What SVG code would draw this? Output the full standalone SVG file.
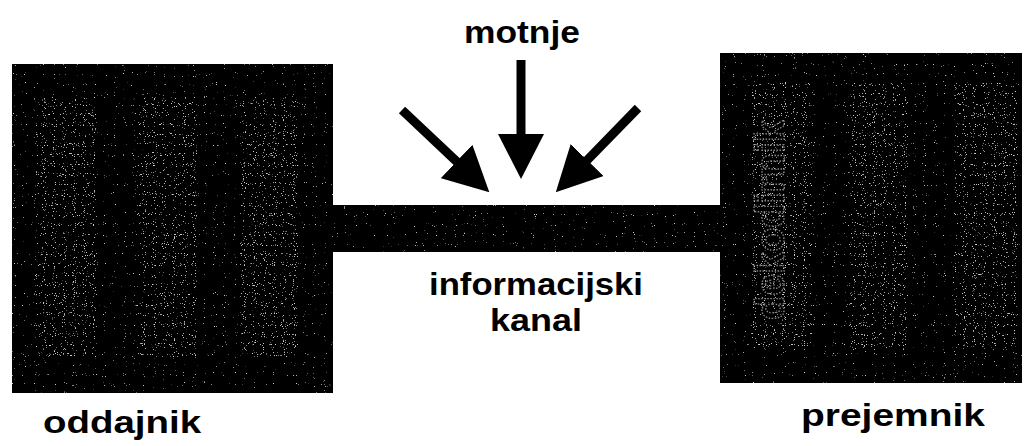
<svg xmlns="http://www.w3.org/2000/svg" width="1028" height="446" viewBox="0 0 1028 446">
  <style>
    .lbl { font-family: "Liberation Sans", Arial, sans-serif; font-weight: bold; font-size: 32px; fill: #000; text-anchor: middle; }
    .dark { fill: #020202; filter: url(#speck); }
    .col { fill: #060606; filter: url(#speck2); }
    .faint { font-family: "Liberation Sans", Arial, sans-serif; font-weight: bold; font-size: 40px; fill: none; stroke: #a0a0a0; stroke-width: 1.4; stroke-dasharray: 1.5 1.5; text-anchor: middle; opacity: 0.8; }
    .arrow { stroke: #000; stroke-width: 9; fill: none; marker-end: url(#head); }
  </style>
  <defs>
    <filter id="speck" x="0" y="0" width="1" height="1">
      <feTurbulence type="fractalNoise" baseFrequency="0.9" numOctaves="1" seed="3" result="n"/>
      <feColorMatrix in="n" type="matrix" values="0 0 0 0 1  0 0 0 0 1  0 0 0 0 1  0 0 0 14 -10.0" result="dots"/>
      <feComposite in="dots" in2="SourceGraphic" operator="in" result="d2"/>
      <feComponentTransfer in="d2" result="d3"><feFuncA type="linear" slope="0.6"/></feComponentTransfer>
      <feMerge><feMergeNode in="SourceGraphic"/><feMergeNode in="d3"/></feMerge>
    </filter>
    <filter id="speck2" x="0" y="0" width="1" height="1">
      <feTurbulence type="fractalNoise" baseFrequency="0.9" numOctaves="1" seed="7" result="n"/>
      <feColorMatrix in="n" type="matrix" values="0 0 0 0 1  0 0 0 0 1  0 0 0 0 1  0 0 0 14 -9.3" result="dots"/>
      <feComposite in="dots" in2="SourceGraphic" operator="in" result="d2"/>
      <feComponentTransfer in="d2" result="d3"><feFuncA type="linear" slope="0.6"/></feComponentTransfer>
      <feMerge><feMergeNode in="SourceGraphic"/><feMergeNode in="d3"/></feMerge>
    </filter>
    <marker id="head" viewBox="0 0 45 46" refX="1" refY="23" markerWidth="45" markerHeight="46" markerUnits="userSpaceOnUse" orient="auto">
      <path d="M0,0 L45,23 L0,46 z" fill="#000"/>
    </marker>
  </defs>
  <rect width="1028" height="446" fill="#fff"/>

  <g id="kanal">
    <rect class="dark" x="330" y="205" width="394" height="47"/>
    <text class="lbl" x="536" y="295" textLength="214" lengthAdjust="spacingAndGlyphs">informacijski</text>
    <text class="lbl" x="536" y="331" textLength="92" lengthAdjust="spacingAndGlyphs">kanal</text>
  </g>

  <g id="oddajnik">
    <rect class="dark" x="12" y="64" width="321" height="329"/>
    <rect class="col" x="36" y="97" width="60" height="260"/>
    <rect class="col" x="137" y="97" width="60" height="260"/>
    <rect class="col" x="240" y="97" width="58" height="260"/>
    <text class="lbl" x="122" y="433" textLength="158" lengthAdjust="spacingAndGlyphs">oddajnik</text>
  </g>

  <g id="prejemnik">
    <rect class="dark" x="720" y="53" width="302" height="330"/>
    <rect class="col" x="752" y="83" width="60" height="267"/>
    <rect class="col" x="848" y="83" width="60" height="267"/>
    <rect class="col" x="955" y="83" width="62" height="267"/>
    <text class="faint" transform="translate(784,220) rotate(-90)" textLength="200" lengthAdjust="spacingAndGlyphs">dekodirnik</text>
    <text class="lbl" x="893" y="426" textLength="184" lengthAdjust="spacingAndGlyphs">prejemnik</text>
  </g>

  <g id="motnje">
    <text class="lbl" x="522" y="43" textLength="116" lengthAdjust="spacingAndGlyphs">motnje</text>
  </g>

  <g id="connectors">
    <line class="arrow" x1="521" y1="60" x2="521" y2="135"/>
    <line class="arrow" x1="402" y1="110" x2="457.3" y2="162.1"/>
    <line class="arrow" x1="638" y1="108" x2="586.5" y2="160.8"/>
  </g>
</svg>
